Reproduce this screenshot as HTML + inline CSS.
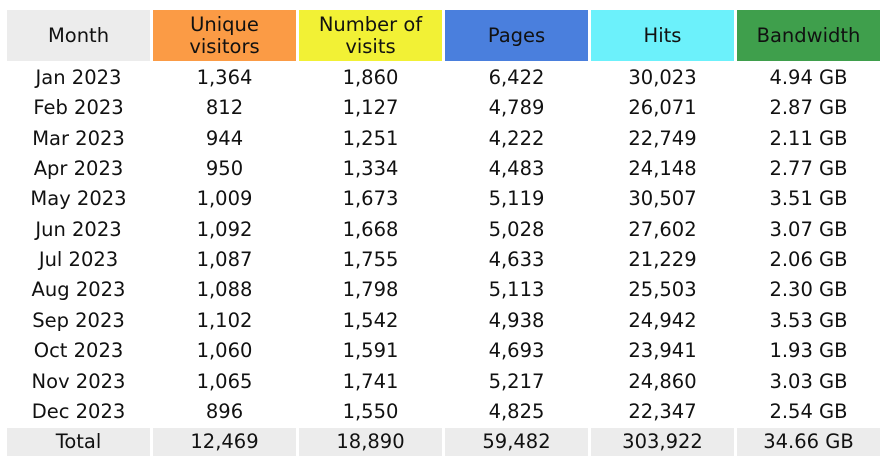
<!DOCTYPE html>
<html><head><style>
body{margin:0;width:890px;height:469px;background:#fff;font-family:"DejaVu Sans",Verdana,sans-serif;color:#111;position:relative;overflow:hidden}
.c{position:absolute;width:143px;display:flex;align-items:center;justify-content:center;text-align:center;font-size:19.5px;line-height:22px}
</style></head><body>
<div id="t"></div>
<script>
const xs=[7,153,299,445,591,737];
const hdr=[["Month","#ececec"],["Unique<br>visitors","#fb9b45"],["Number of<br>visits","#f2f135"],["Pages","#4a7fdd"],["Hits","#6cf1fb"],["Bandwidth","#3f9f4c"]];
const rows=[
["Jan 2023","1,364","1,860","6,422","30,023","4.94 GB"],
["Feb 2023","812","1,127","4,789","26,071","2.87 GB"],
["Mar 2023","944","1,251","4,222","22,749","2.11 GB"],
["Apr 2023","950","1,334","4,483","24,148","2.77 GB"],
["May 2023","1,009","1,673","5,119","30,507","3.51 GB"],
["Jun 2023","1,092","1,668","5,028","27,602","3.07 GB"],
["Jul 2023","1,087","1,755","4,633","21,229","2.06 GB"],
["Aug 2023","1,088","1,798","5,113","25,503","2.30 GB"],
["Sep 2023","1,102","1,542","4,938","24,942","3.53 GB"],
["Oct 2023","1,060","1,591","4,693","23,941","1.93 GB"],
["Nov 2023","1,065","1,741","5,217","24,860","3.03 GB"],
["Dec 2023","896","1,550","4,825","22,347","2.54 GB"]];
let h="";
hdr.forEach((c,i)=>{h+=`<div class="c" style="left:${xs[i]}px;top:10px;height:51px;background:${c[1]}">${c[0]}</div>`});
rows.forEach((r,j)=>{const cy=78+j*30.35;r.forEach((v,i)=>{h+=`<div class="c" style="left:${xs[i]}px;top:${cy-14}px;height:28px">${v}</div>`})});
["Total","12,469","18,890","59,482","303,922","34.66 GB"].forEach((v,i)=>{h+=`<div class="c" style="left:${xs[i]}px;top:428px;height:28px;background:#ececec">${v}</div>`});
document.getElementById("t").innerHTML=h;
</script>
</body></html>
